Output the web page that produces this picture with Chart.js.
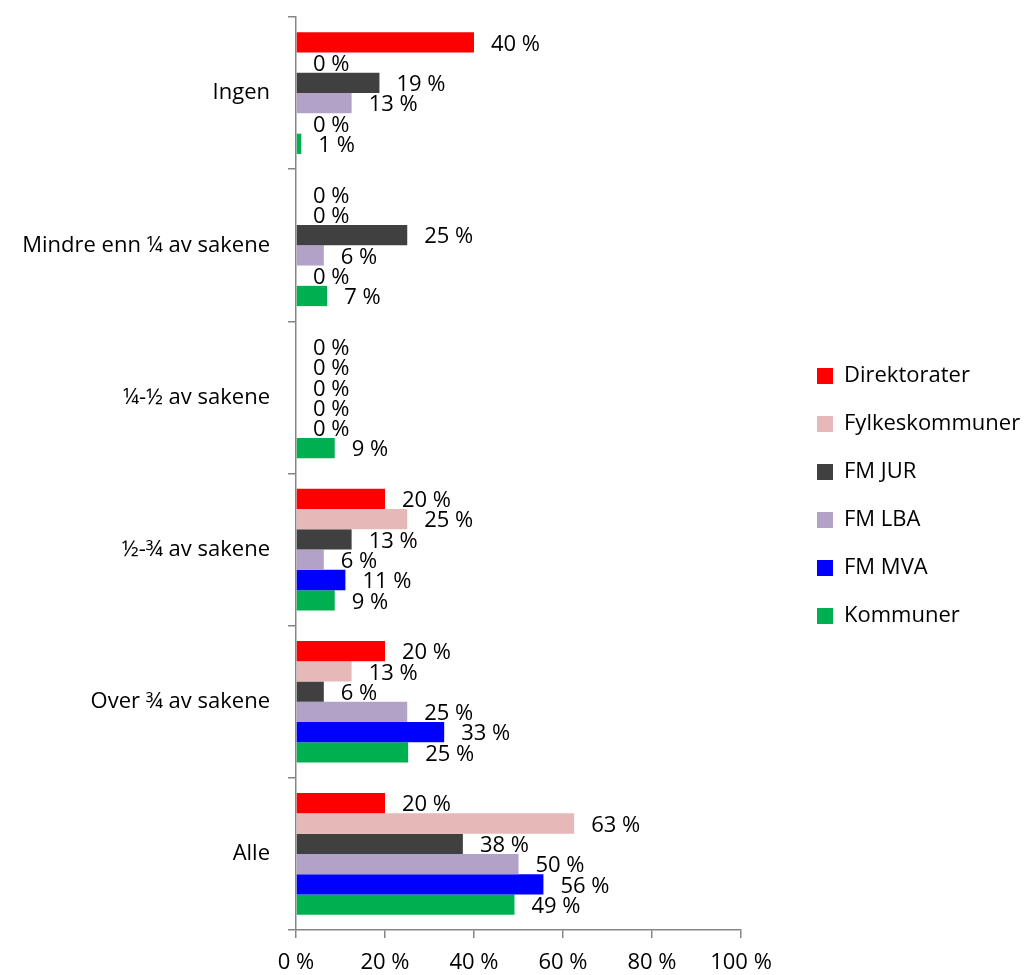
<!DOCTYPE html>
<html>
<head>
<meta charset="utf-8">
<script src="https://cdn.jsdelivr.net/npm/chart.js@4"></script>
<style>
  html, body { margin: 0; padding: 0; background: #fff; }
  #wrap { width: 1027px; height: 975px; }
</style>
</head>
<body>
<div id="wrap"><canvas id="chart"></canvas></div>
<script>
// categories (top to bottom)
const categories = ['Ingen', 'Mindre enn ¼ av sakene', '¼-½ av sakene', '½-¾ av sakene', 'Over ¾ av sakene', 'Alle'];

// series values in percent
const direktorater   = [40, 0, 0, 20, 20, 20];
const fylkeskommuner = [0, 0, 0, 25, 12.5, 62.5];
const fmJur          = [18.75, 25, 0, 12.5, 6.25, 37.5];
const fmLba          = [12.5, 6.25, 0, 6.25, 25, 50];
const fmMva          = [0, 0, 0, 11.1, 33.3, 55.6];
const kommuner       = [1.2, 7, 8.7, 8.7, 25.2, 49.1];

const xTicks = [0, 20, 40, 60, 80, 100];

const FONT = 'Open Sans';
const axisColor = '#868686';

// adds empty room between the plot and the legend
const spacer = {
  position: 'right', weight: 0, fullSize: false, options: {},
  isHorizontal() { return false; },
  update(maxW, maxH) { this.width = 50; this.height = maxH; },
  getPadding() { return { left: 0, right: 0, top: 0, bottom: 0 }; },
  draw() {}
};

const layoutTweaks = {
  id: 'layoutTweaks',
  afterInit(chart) {
    Chart.layouts.addBox(chart, spacer);
    const lg = chart.legend;
    const fit = lg.fit;
    lg.fit = function () { fit.call(this); this.width = 236; };
  }
};

// value labels just past the end of each bar
const barLabels = {
  id: 'barLabels',
  afterDatasetsDraw(chart) {
    const ctx = chart.ctx;
    ctx.save();
    ctx.font = '22px "' + FONT + '"';
    ctx.fillStyle = '#000';
    ctx.textAlign = 'left';
    ctx.textBaseline = 'middle';
    chart.data.datasets.forEach((ds, i) => {
      chart.getDatasetMeta(i).data.forEach((bar, j) => {
        ctx.fillText(Math.round(ds.data[j]) + ' %', bar.x + 17, bar.y + 2);
      });
    });
    ctx.restore();
  }
};

const ctx = document.getElementById('chart').getContext('2d');
new Chart(ctx, {
  type: 'bar',
  data: {
    labels: categories,
    datasets: [
      { label: 'Direktorater', data: direktorater, backgroundColor: '#FF0000' },
      { label: 'Fylkeskommuner', data: fylkeskommuner, backgroundColor: '#E6B9B8' },
      { label: 'FM JUR', data: fmJur, backgroundColor: '#404040' },
      { label: 'FM LBA', data: fmLba, backgroundColor: '#B3A2C7' },
      { label: 'FM MVA', data: fmMva, backgroundColor: '#0000FF' },
      { label: 'Kommuner', data: kommuner, backgroundColor: '#00B050' }
    ]
  },
  options: {
    indexAxis: 'y',
    responsive: true,
    maintainAspectRatio: false,
    animation: false,
    categoryPercentage: 0.8,
    barPercentage: 1.0,
    layout: { padding: { top: 17 } },
    plugins: {
      legend: {
        position: 'right',
        labels: {
          boxWidth: 16, boxHeight: 16, padding: 26,
          color: '#000',
          font: { family: FONT, size: 22 }
        }
      },
      tooltip: { enabled: false }
    },
    scales: {
      x: {
        min: 0, max: 100,
        afterBuildTicks: (s) => { s.ticks = xTicks.map(v => ({ value: v })); },
        afterFit: (s) => { s.height = 45; },
        border: { color: axisColor, width: 1.5 },
        grid: { drawOnChartArea: false, color: axisColor, lineWidth: 1.5, tickLength: 8 },
        ticks: {
          padding: 12, color: '#000',
          font: { family: FONT, size: 22 },
          callback: (v) => v + ' %'
        }
      },
      y: {
        afterFit: (s) => { s.width = 296; s.paddingTop = 0; s.paddingBottom = 0; },
        border: { color: axisColor, width: 1.5 },
        grid: { drawOnChartArea: false, color: axisColor, lineWidth: 1.5, tickLength: 8 },
        ticks: { padding: 18, color: '#000', font: { family: FONT, size: 22 } }
      }
    }
  },
  plugins: [layoutTweaks, barLabels]
});
</script>
</body>
</html>
